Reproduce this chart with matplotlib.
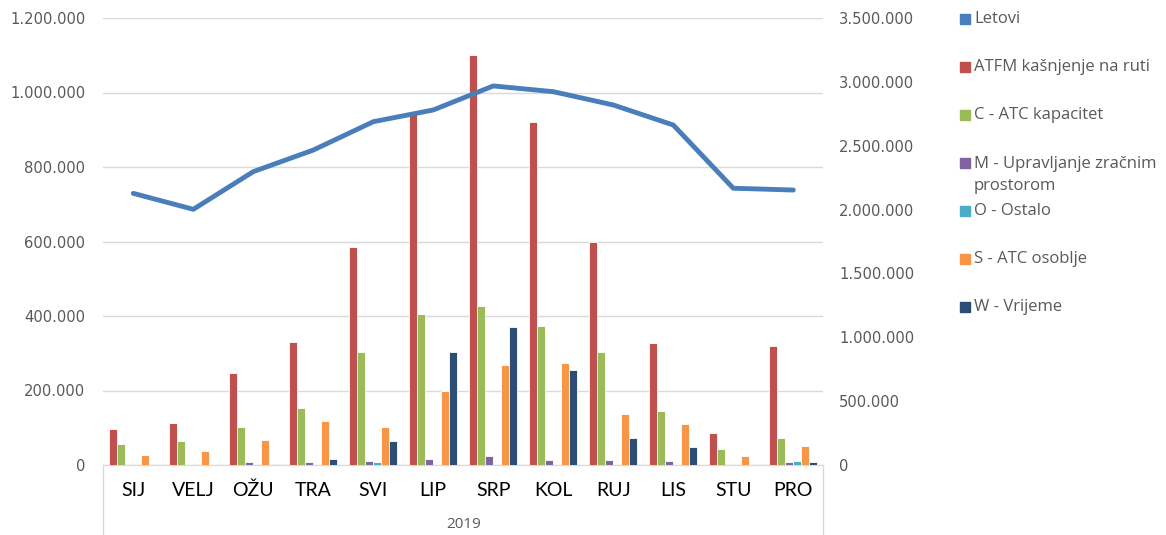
import numpy as np
import matplotlib
matplotlib.use('Agg')
import matplotlib.pyplot as plt
from matplotlib.ticker import FuncFormatter
from matplotlib.patches import Rectangle
from matplotlib.lines import Line2D

# -----------------------------------------------------------------------------------
#	D A T A
# -----------------------------------------------------------------------------------
months = ['SIJ', 'VELJ', 'OŽU', 'TRA', 'SVI', 'LIP', 'SRP', 'KOL', 'RUJ', 'LIS', 'STU', 'PRO']
year = '2019'

letovi    = [2127000, 2002000, 2297000, 2466000, 2688000, 2780000, 2968000, 2923000, 2819000, 2662000, 2167000, 2153000]
atfm      = [97000, 114000, 247000, 330000, 585000, 942000, 1101000, 922000, 599000, 327000, 87000, 320000]
c_kapac   = [56000, 64000, 103000, 153000, 303000, 405000, 427000, 373000, 303000, 146000, 43000, 73000]
m_uprav   = [0, 0, 7000, 7000, 11000, 16000, 24000, 13000, 13000, 11000, 4000, 7000]
o_ostalo  = [0, 0, 0, 0, 8000, 0, 0, 0, 3000, 0, 0, 11000]
s_osoblje = [26000, 38000, 67000, 117000, 103000, 200000, 268000, 274000, 137000, 110000, 23000, 50000]
w_vrijeme = [0, 0, 4000, 17000, 64000, 303000, 370000, 255000, 73000, 48000, 0, 7000]

bar_series = [atfm, c_kapac, m_uprav, o_ostalo, s_osoblje, w_vrijeme]
legend_labels = ['Letovi', 'ATFM kašnjenje na ruti', 'C - ATC kapacitet',
                 'M - Upravljanje zračnim\nprostorom', 'O - Ostalo', 'S - ATC osoblje', 'W - Vrijeme']

line_color = '#4A7EBB'
bar_colors = ['#C0504D', '#9BBB59', '#8064A2', '#4BACC6', '#F79646', '#2C4D75']
grid_color = '#D9D9D9'
text_gray = '#595959'

# -----------------------------------------------------------------------------------
#	P L O T
# -----------------------------------------------------------------------------------
W, H = 1166, 535
fig = plt.figure(figsize=(W/100, H/100), dpi=100)
ax = fig.add_axes([103.3/W, 70/H, 720/W, 447/H])

x = np.arange(len(months))
bw = 0.1333
for j, vals in enumerate(bar_series):
	ax.bar(x + (j - 2.5)*bw, vals, width=bw, color=bar_colors[j], edgecolor='white', linewidth=0.6, zorder=3)

ax.set_xlim(-0.5, 11.5)
ax.set_ylim(0, 1200000)
ax.set_yticks(np.arange(0, 1200001, 200000))
ax.yaxis.set_major_formatter(FuncFormatter(lambda v, p: '{:,.0f}'.format(v).replace(',', '.')))
ax.grid(axis='y', color=grid_color, linewidth=1, zorder=0)
ax.set_axisbelow(True)
for s in ['top', 'left', 'right']:
	ax.spines[s].set_visible(False)
ax.spines['bottom'].set_color(grid_color)
ax.tick_params(axis='y', length=0, pad=13, labelsize=10.6, labelcolor=text_gray)
ax.set_xticks(x)
ax.set_xticklabels(months, fontfamily='Lato', fontsize=14, color='black')
ax.tick_params(axis='x', length=0, pad=12)

## category box below the axis
for xx in [0, 1]:
	ax.add_line(Line2D([xx, xx], [0, -70/447], transform=ax.transAxes, color=grid_color, linewidth=1, clip_on=False))
ax.text(0.5, -60/447, year, transform=ax.transAxes, ha='center', va='center', fontsize=11, color=text_gray, fontfamily='Open Sans')

## line on secondary axis
ax2 = ax.twinx()
ax2.plot(x, letovi, color=line_color, linewidth=3.5, solid_capstyle='round', solid_joinstyle='round', zorder=5)
ax2.set_ylim(0, 3500000)
ax2.set_yticks(np.arange(0, 3500001, 500000))
ax2.yaxis.set_major_formatter(FuncFormatter(lambda v, p: '{:,.0f}'.format(v).replace(',', '.')))
for s in ['top', 'left', 'right', 'bottom']:
	ax2.spines[s].set_visible(False)
ax2.tick_params(axis='y', length=0, pad=11.5, labelsize=10.6, labelcolor=text_gray)

## legend (manual)
legend_colors = [line_color] + bar_colors
for i, lab in enumerate(legend_labels):
	yc = 19.3 + i*47.9
	fig.add_artist(Rectangle((959.5/W, 1 - (yc + 5)/H), 10/W, 10/H, transform=fig.transFigure, color=legend_colors[i]))
	ty = yc + 12 if '\n' in lab else yc
	fig.text(974/W, 1 - ty/H, lab, va='center', ha='left', fontsize=12, color=text_gray,
		fontfamily='Open Sans', linespacing=1.5)

fig.savefig('out.png', dpi=100)
